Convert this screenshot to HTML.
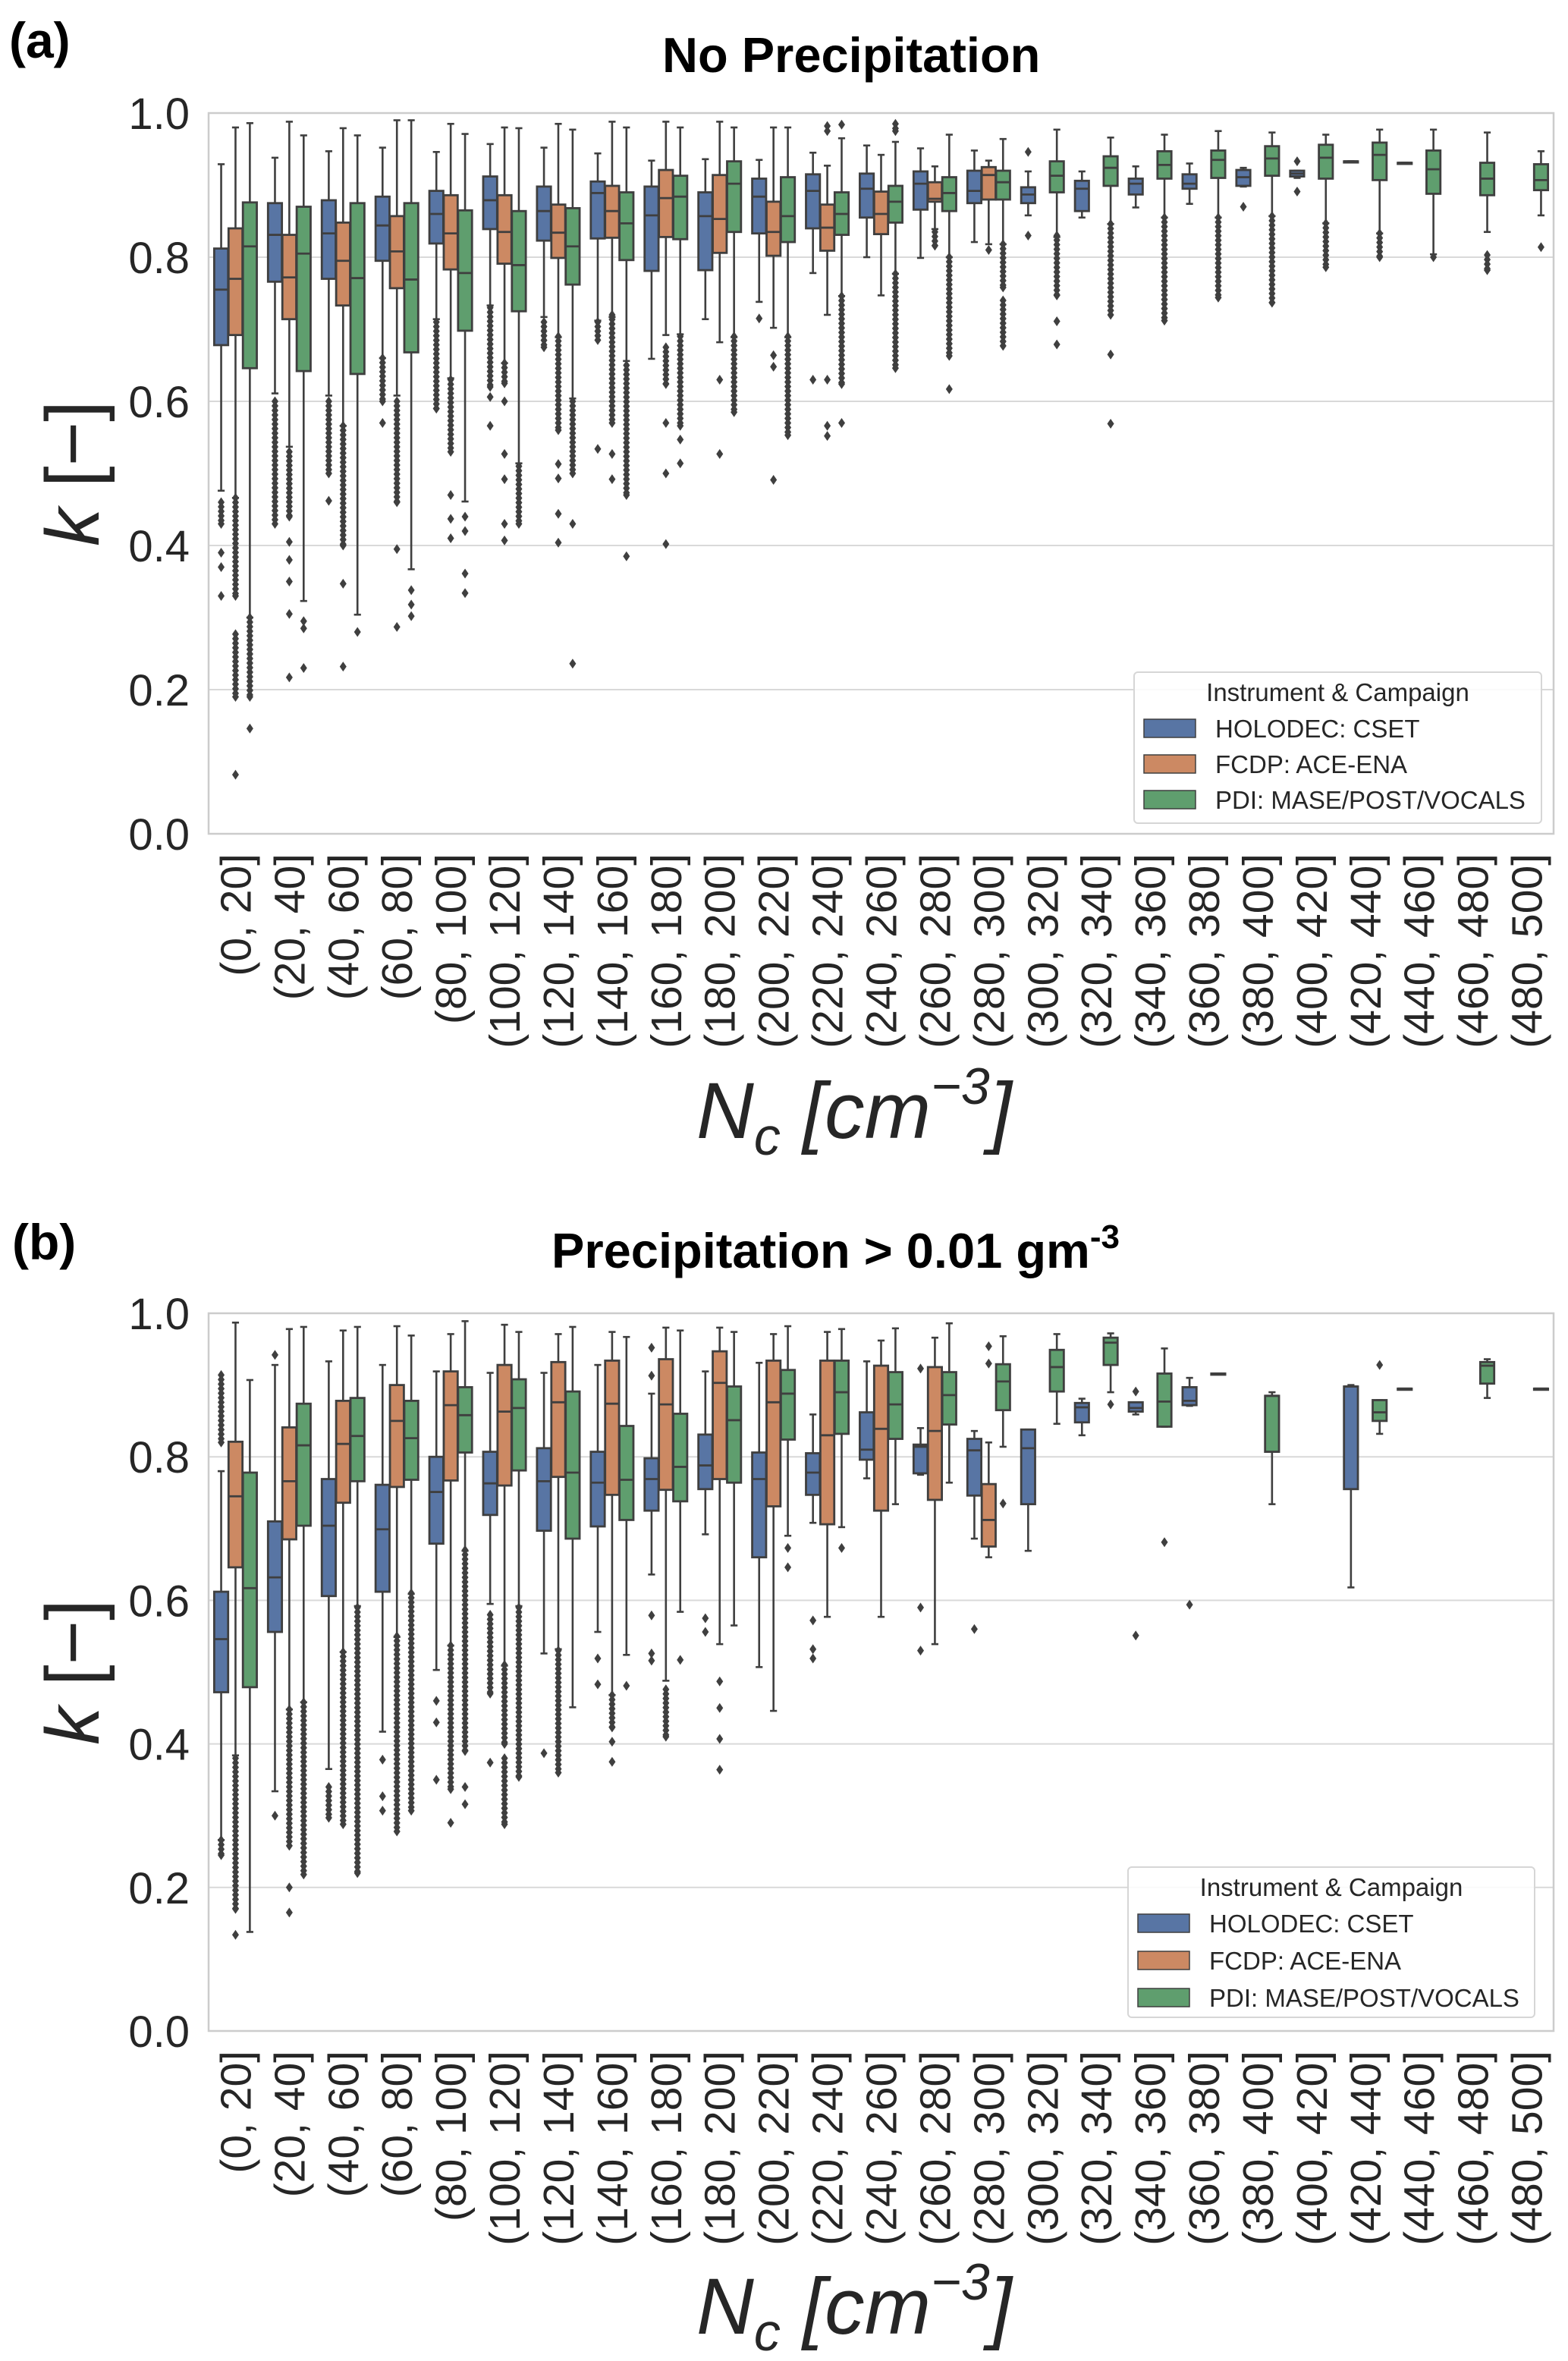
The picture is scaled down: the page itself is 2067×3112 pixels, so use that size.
<!DOCTYPE html>
<html>
<head>
<meta charset="utf-8">
<style>
  html,body{margin:0;padding:0;background:#fff;}
  svg{display:block;}
  text{font-family:"Liberation Sans",Arial,sans-serif;}
</style>
</head>
<body>
<svg id="fig" xmlns="http://www.w3.org/2000/svg" width="2067" height="3112" viewBox="0 0 2067 3112">
  <rect x="0" y="0" width="2067" height="3112" fill="#ffffff"/>
</svg>
<script>
// ---------------- DATA ----------------
const categories = ["(0, 20]","(20, 40]","(40, 60]","(60, 80]","(80, 100]","(100, 120]","(120, 140]","(140, 160]","(160, 180]","(180, 200]","(200, 220]","(220, 240]","(240, 260]","(260, 280]","(280, 300]","(300, 320]","(320, 340]","(340, 360]","(360, 380]","(380, 400]","(400, 420]","(420, 440]","(440, 460]","(460, 480]","(480, 500]"];
const seriesNames = ["HOLODEC: CSET","FCDP: ACE-ENA","PDI: MASE/POST/VOCALS"];
const yTicks = [0.0,0.2,0.4,0.6,0.8,1.0];
const yTickLabels = ["0.0","0.2","0.4","0.6","0.8","1.0"];

// box stats: [lowWhisker, q1, median, q3, highWhisker]
const aBlue = [[0.476,0.678,0.755,0.812,0.929],[0.611,0.766,0.831,0.875,0.938],[0.608,0.770,0.833,0.879,0.947],[0.66,0.795,0.844,0.884,0.952],[0.714,0.819,0.860,0.892,0.946],[0.733,0.839,0.879,0.912,0.957],[0.717,0.823,0.864,0.898,0.952],[0.712,0.826,0.889,0.905,0.944],[0.659,0.781,0.858,0.898,0.934],[0.714,0.782,0.857,0.89,0.936],[0.738,0.833,0.884,0.909,0.935],[0.778,0.840,0.892,0.915,0.945],[0.80,0.855,0.895,0.916,0.955],[0.799,0.866,0.902,0.919,0.951],[0.821,0.875,0.892,0.920,0.948],[0.858,0.875,0.887,0.897,0.919],[0.855,0.864,0.895,0.906,0.919],[0.869,0.887,0.902,0.909,0.926],[0.874,0.895,0.902,0.915,0.93],[0.898,0.899,0.911,0.921,0.924],[0.91,0.912,0.916,0.92,0.92],[0.933,0.933,0.933,0.933,0.933],[0.931,0.931,0.931,0.931,0.931],null,null];
const aBlueOut = [[[0.46,0.43],0.39,0.37,0.33],[[0.60,0.43]],[[0.60,0.50],0.462],[[0.66,0.60],0.57],[[0.71,0.59]],[[0.73,0.62],0.606,0.566],[[0.71,0.675]],[[0.71,0.685],0.534],[],[],[0.715],[0.63],[],[],[],[0.946,0.83],[],[],[],[0.87],[0.933,0.891],[],[],[],[]];
const aOrange = [[0.466,0.692,0.77,0.84,0.98],[0.537,0.714,0.772,0.831,0.988],[0.566,0.733,0.795,0.848,0.979],[0.608,0.757,0.808,0.857,0.99],[0.632,0.783,0.833,0.886,0.985],[0.653,0.791,0.835,0.886,0.98],[0.689,0.799,0.834,0.873,0.985],[0.717,0.827,0.864,0.899,0.988],[0.692,0.828,0.882,0.921,0.988],[0.682,0.806,0.853,0.914,0.988],[0.702,0.802,0.835,0.877,0.98],[0.72,0.809,0.841,0.873,0.927],[0.747,0.832,0.860,0.891,0.942],[0.839,0.877,0.881,0.904,0.926],[0.818,0.880,0.914,0.925,0.934],null,null,null,null,null,null,null,null,null,null];
const aOrangeOut = [[[0.466,0.33],[0.277,0.19],0.082],[[0.53,0.44],0.405,0.38,0.35,0.305,0.217],[[0.566,0.40],0.347,0.232],[[0.6,0.46],0.395,0.287],[[0.63,0.53],0.47,0.437,0.41],[[0.653,0.625],0.6,0.527,0.492,0.43,0.407],[[0.69,0.56],0.513,0.493,0.444,0.404],[[0.72,0.57],0.527,0.492],[[0.675,0.624],0.57,0.50,0.402],[0.63,0.527],[0.664,0.648,0.491],[0.982,0.975,0.63,0.566,0.552],[],[[0.835,0.816]],[0.81],[],[],[],[],[],[],[],[],[],[]];
const aGreen = [[0.30,0.646,0.815,0.876,0.986],[0.323,0.642,0.805,0.870,0.969],[0.304,0.638,0.771,0.875,0.969],[0.367,0.668,0.769,0.875,0.99],[0.461,0.698,0.778,0.865,0.971],[0.514,0.725,0.789,0.864,0.979],[0.604,0.762,0.815,0.868,0.977],[0.656,0.796,0.847,0.89,0.98],[0.693,0.825,0.884,0.913,0.98],[0.689,0.835,0.902,0.933,0.98],[0.689,0.821,0.857,0.911,0.98],[0.746,0.831,0.86,0.89,0.965],[0.777,0.848,0.877,0.899,0.96],[0.8,0.864,0.889,0.911,0.97],[0.818,0.88,0.904,0.92,0.964],[0.828,0.89,0.913,0.933,0.977],[0.846,0.899,0.924,0.94,0.966],[0.855,0.909,0.928,0.947,0.97],[0.855,0.91,0.935,0.948,0.975],[0.857,0.913,0.937,0.954,0.973],[0.847,0.909,0.938,0.956,0.97],[0.833,0.907,0.942,0.959,0.977],[0.804,0.888,0.922,0.948,0.977],[0.835,0.886,0.909,0.931,0.973],[0.858,0.893,0.907,0.929,0.947]];
const aGreenOut = [[[0.30,0.19],0.146],[0.295,0.285,0.23],[0.28],[0.338,0.318,0.302],[0.44,0.42,0.361,0.334],[[0.51,0.43]],[[0.6,0.5],0.43,0.236],[[0.65,0.47],0.385],[[0.69,0.566],0.547,0.514],[[0.69,0.585]],[[0.69,0.553]],[0.984,[0.746,0.624],0.57],[[0.985,0.975],[0.777,0.646]],[[0.8,0.663],0.617],[[0.818,0.758],[0.74,0.677]],[[0.83,0.747],0.711,0.679],[[0.846,0.72],0.665,0.569],[[0.855,0.712]],[[0.855,0.744]],[[0.857,0.737]],[[0.847,0.786]],[[0.833,0.8]],[0.8],[[0.803,0.782]],[0.814]];

const bBlue = [[0.266,0.472,0.546,0.612,0.78],[0.334,0.556,0.632,0.71,0.928],[0.365,0.606,0.704,0.769,0.933],[0.417,0.612,0.699,0.761,0.928],[0.503,0.679,0.751,0.8,0.919],[0.595,0.719,0.763,0.807,0.917],[0.526,0.697,0.766,0.812,0.917],[0.556,0.703,0.764,0.807,0.928],[0.636,0.725,0.769,0.798,0.888],[0.692,0.755,0.788,0.831,0.919],[0.507,0.66,0.769,0.806,0.931],[0.708,0.747,0.778,0.805,0.859],[0.77,0.796,0.81,0.862,0.933],[0.775,0.777,0.814,0.817,0.84],[0.686,0.746,0.809,0.825,0.836],[0.669,0.734,0.812,0.838,0.838],[0.83,0.848,0.869,0.875,0.881],[0.859,0.863,0.868,0.876,0.876],[0.871,0.872,0.878,0.897,0.91],null,null,[0.618,0.755,0.898,0.898,0.9],[0.895,0.895,0.895,0.895,0.895],null,null];
const bBlueOut = [[[0.914,0.82],[0.266,0.245]],[0.942,0.30],[[0.34,0.297]],[0.378,0.327,0.307],[0.46,0.43,0.35],[[0.58,0.47],0.374],[0.387],[0.519,0.483],[0.952,0.913,0.579,0.526,0.516],[0.575,0.556],[],[0.572,0.532,0.519],[],[0.923,0.59,0.53],[0.56],[],[],[0.891,0.551],[0.594],[],[],[],[],[],[]];
const bOrange = [[0.384,0.646,0.745,0.821,0.987],[0.448,0.685,0.766,0.841,0.978],[0.528,0.736,0.818,0.878,0.976],[0.549,0.758,0.85,0.9,0.982],[0.537,0.767,0.872,0.919,0.971],[0.509,0.76,0.863,0.928,0.984],[0.532,0.772,0.876,0.932,0.971],[0.468,0.747,0.874,0.934,0.974],[0.488,0.754,0.873,0.936,0.98],[0.539,0.769,0.903,0.947,0.98],[0.446,0.731,0.876,0.934,0.971],[0.577,0.706,0.83,0.934,0.974],[0.577,0.725,0.839,0.927,0.962],[0.539,0.74,0.836,0.925,0.966],[0.66,0.675,0.712,0.762,0.82],null,null,null,null,null,null,null,null,null,null];
const bOrangeOut = [[[0.38,0.17],0.134],[[0.448,0.258],0.2,0.165],[[0.528,0.288]],[[0.55,0.278]],[[0.537,0.337],0.29],[[0.51,0.40],[0.38,0.288]],[[0.53,0.36]],[[0.468,0.423],0.403,0.375],[[0.476,0.41]],[0.487,0.45,0.407,0.364],[],[],[],[],[0.954,0.93],[],[],[],[],[],[],[],[],[],[]];
const bGreen = [[0.138,0.479,0.617,0.778,0.907],[0.458,0.704,0.816,0.874,0.981],[0.592,0.766,0.829,0.882,0.981],[0.609,0.768,0.826,0.878,0.969],[0.669,0.806,0.858,0.897,0.989],[0.592,0.781,0.868,0.908,0.974],[0.451,0.686,0.778,0.891,0.981],[0.524,0.712,0.768,0.843,0.967],[0.584,0.738,0.786,0.86,0.976],[0.565,0.764,0.851,0.898,0.974],[0.69,0.824,0.888,0.921,0.982],[0.702,0.832,0.89,0.934,0.978],[0.734,0.825,0.873,0.918,0.979],[0.764,0.845,0.886,0.918,0.986],[0.814,0.865,0.905,0.929,0.968],[0.846,0.891,0.925,0.949,0.971],[0.89,0.928,0.959,0.966,0.972],[0.842,0.842,0.877,0.916,0.951],[0.916,0.916,0.916,0.916,0.916],[0.734,0.807,0.885,0.885,0.89],null,[0.832,0.85,0.862,0.879,0.879],null,[0.882,0.902,0.927,0.932,0.936],[0.895,0.895,0.895,0.895,0.895]];
const bGreenOut = [[],[[0.458,0.218]],[[0.59,0.22]],[[0.61,0.307]],[[0.67,0.39],0.34,0.316],[[0.59,0.354]],[],[0.481],[0.517],[],[0.673,0.646],[0.673],[],[],[0.735],[],[0.873],[0.681],[],[],[],[0.928],[],[],[]];

// ---------------- RENDER ----------------
const NS = "http://www.w3.org/2000/svg";
const svg = document.getElementById("fig");
const fills = ["#5875a4","#cc8963","#5f9e6e"];
const LINE = "#3f3f3f";
const X0 = 275, X1 = 2048;
const step = (X1 - X0) / categories.length;
const boxW = step * 0.8 / 3 * 0.97;
const offs = [-step*0.8/3, 0, step*0.8/3];

function mk(tag, attrs, parent) {
  const e = document.createElementNS(NS, tag);
  for (const k in attrs) e.setAttribute(k, attrs[k]);
  (parent || svg).appendChild(e);
  return e;
}
function xCenter(i) { return X0 + (i + 0.5) * step; }

function drawPanel(p) {
  const g = mk("g", {});
  
  
  const yS = k => p.bottom - k * (p.bottom - p.top);

  yTicks.forEach((t, j) => {
    const ln = mk("line", {x1: X0, x2: X1, y1: yS(t), y2: yS(t), stroke: "#d9d9d9", "stroke-width": 2}, g);
    
    
    const tl = mk("text", {x: 250, y: yS(t) + 21, "text-anchor": "end", "font-size": 58, fill: "#262626"}, g);
    tl.textContent = yTickLabels[j];
    
    
  });

  categories.forEach((c, i) => {
    const cx = xCenter(i) + 20, ty = p.bottom + 26;
    const t = mk("text", {x: cx, y: ty, "text-anchor": "end", "font-size": 57, fill: "#262626", transform: `rotate(-90 ${cx} ${ty})`}, g);
    t.textContent = c;
    
    
  });

  p.series.forEach((s, h) => {
    s.stats.forEach((st, i) => {
      const cx = xCenter(i) + offs[h];
      const outs = s.out[i] || [];
      const bg = mk("g", {}, g);
      
      
      if (st) {
        const [lo, q1, md, q3, hi] = st;
        const cap = boxW * 0.5;
        mk("line", {x1: cx, x2: cx, y1: yS(q3), y2: yS(hi), stroke: LINE, "stroke-width": 2.6}, bg);
        mk("line", {x1: cx, x2: cx, y1: yS(q1), y2: yS(lo), stroke: LINE, "stroke-width": 2.6}, bg);
        mk("line", {x1: cx - cap/2, x2: cx + cap/2, y1: yS(hi), y2: yS(hi), stroke: LINE, "stroke-width": 2.6}, bg);
        mk("line", {x1: cx - cap/2, x2: cx + cap/2, y1: yS(lo), y2: yS(lo), stroke: LINE, "stroke-width": 2.6}, bg);
        const h2 = Math.max(yS(q1) - yS(q3), 1.5);
        mk("rect", {x: cx - boxW/2, y: yS(q3), width: boxW, height: h2, fill: fills[h], stroke: LINE, "stroke-width": 2.8}, bg);
        mk("line", {x1: cx - boxW/2, x2: cx + boxW/2, y1: yS(md), y2: yS(md), stroke: LINE, "stroke-width": 2.8}, bg);
      }
      const dia = (y) => mk("path", {d: `M${cx} ${y-6.5} L${cx+4.5} ${y} L${cx} ${y+6.5} L${cx-4.5} ${y} Z`, fill: LINE}, bg);
      outs.forEach(o => {
        if (Array.isArray(o)) {
          const ya = yS(o[0]), yb = yS(o[1]);
          for (let y = ya; y <= yb; y += 6) dia(y);
          dia(yb);
        } else dia(yS(o));
      });
    });
  });

  const fr = mk("rect", {x: X0, y: p.top, width: X1 - X0, height: p.bottom - p.top, fill: "none", stroke: "#cccccc", "stroke-width": 2.5}, g);
  
  

  const L = p.legend;
  const lg = mk("g", {}, g);
  
  
  mk("rect", {x: L.x, y: L.y, width: L.w, height: L.h, rx: 5, fill: "#ffffff", "fill-opacity": 0.85, stroke: "#d6d6d6", "stroke-width": 2}, lg);
  const lt = mk("text", {x: L.x + L.w/2, y: L.y + 38, "text-anchor": "middle", "font-size": 33, fill: "#262626"}, lg);
  lt.textContent = "Instrument & Campaign";
  
  
  seriesNames.forEach((n, h) => {
    const ry = L.y + 74 + h * L.rs;
    const e = mk("g", {}, lg);
    
    
    mk("rect", {x: L.x + 13, y: ry - 12, width: 68, height: 24, fill: fills[h], stroke: LINE, "stroke-width": 1.5}, e);
    const tx = mk("text", {x: L.x + 107, y: ry + 12, "font-size": 33, fill: "#262626"}, e);
    tx.textContent = n;
  });

  const yl = mk("text", {x: 130, y: (p.top + p.bottom)/2, "text-anchor": "middle", "font-size": 100, fill: "#262626", transform: `rotate(-90 130 ${(p.top+p.bottom)/2})`}, g);
  
  
  yl.innerHTML = '<tspan font-style="italic">k</tspan> [\u2212]';

  const xl = mk("text", {x: 918, y: p.xlabelY, "font-size": 105, fill: "#262626", "font-style": "italic"}, g);
  
  
  xl.innerHTML = 'N<tspan font-size="70" dy="22">c</tspan><tspan dy="-22"> [cm</tspan><tspan font-size="68" dy="-45">\u22123</tspan><tspan dy="45">]</tspan>';

  const tt = mk("text", {x: p.titleX, y: p.titleY, "font-size": 65, "font-weight": "bold", fill: "#000"}, g);
  
  
  tt.innerHTML = p.title;
  const pl = mk("text", {x: p.tagX, y: p.tagY, "font-size": 66, "font-weight": "bold", fill: "#000"}, g);
  pl.textContent = p.tag;
  
  
}

drawPanel({
  name: "panel-a-no-precipitation", top: 149, bottom: 1099,
  series: [{stats: aBlue, out: aBlueOut}, {stats: aOrange, out: aOrangeOut}, {stats: aGreen, out: aGreenOut}],
  legend: {x: 1495, y: 886, w: 537, h: 199, rs: 47},
  xlabelY: 1500, title: "No Precipitation", titleX: 873, titleY: 95, tag: "(a)", tagX: 12, tagY: 76
});
drawPanel({
  name: "panel-b-precipitation", top: 1731, bottom: 2677,
  series: [{stats: bBlue, out: bBlueOut}, {stats: bOrange, out: bOrangeOut}, {stats: bGreen, out: bGreenOut}],
  legend: {x: 1487, y: 2461, w: 536, h: 198, rs: 49},
  xlabelY: 3076, title: 'Precipitation &gt; 0.01 gm<tspan font-size="44" dy="-26">-3</tspan>', titleX: 727, titleY: 1671, tag: "(b)", tagX: 16, tagY: 1660
});
</script>
</body>
</html>
